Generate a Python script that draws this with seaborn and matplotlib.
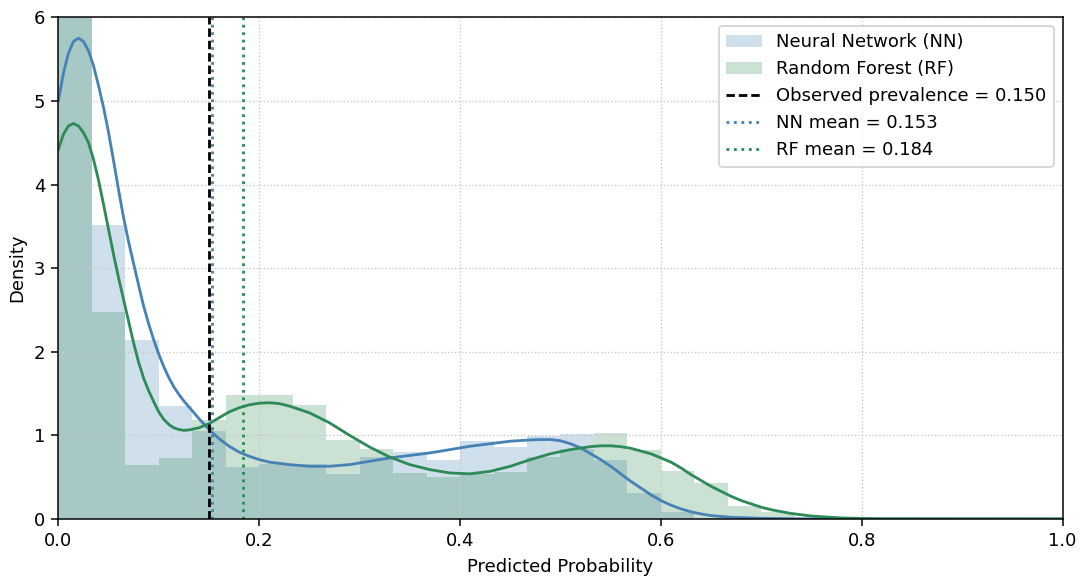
import numpy as np
import pandas as pd
import matplotlib
matplotlib.use("Agg")
import matplotlib.pyplot as plt
import seaborn as sns

# ---------------- data ----------------
bin_edges = [round(i / 30, 6) for i in range(31)]
bin_centers = [(bin_edges[i] + bin_edges[i + 1]) / 2 for i in range(30)]

nn_hist = [12.3, 3.52, 2.14, 1.35, 1.05, 0.62, 0.66, 0.66, 0.54, 0.74,
           0.80, 0.71, 0.93, 0.86, 0.99, 1.02, 0.71, 0.31, 0.08, 0.01,
           0, 0, 0, 0, 0, 0, 0, 0, 0, 0]
rf_hist = [12.0, 2.48, 0.65, 0.73, 1.18, 1.48, 1.48, 1.36, 0.94, 0.84,
           0.55, 0.50, 0.54, 0.56, 0.74, 0.84, 1.03, 0.82, 0.57, 0.43,
           0.15, 0.08, 0, 0, 0, 0, 0, 0, 0, 0]

nn_kde_x = [0.0, 0.005, 0.01, 0.015, 0.02, 0.025, 0.03, 0.035, 0.04, 0.045,
            0.05, 0.055, 0.06, 0.065, 0.07, 0.075, 0.08, 0.085, 0.09, 0.095,
            0.10, 0.105, 0.11, 0.115, 0.12, 0.125, 0.13, 0.14, 0.15, 0.16,
            0.17, 0.18, 0.19, 0.20, 0.21, 0.23, 0.25, 0.27, 0.29, 0.31,
            0.33, 0.35, 0.37, 0.39, 0.41, 0.43, 0.45, 0.47, 0.48, 0.49,
            0.50, 0.51, 0.52, 0.53, 0.54, 0.55, 0.56, 0.57, 0.58, 0.59,
            0.60, 0.61, 0.62, 0.63, 0.64, 0.65, 0.67, 0.70, 0.74, 0.80, 1.0]
nn_kde_y = [5.00, 5.33, 5.57, 5.71, 5.75, 5.71, 5.60, 5.42, 5.18, 4.92,
            4.62, 4.28, 3.93, 3.60, 3.31, 3.05, 2.79, 2.54, 2.33, 2.14,
            1.97, 1.82, 1.69, 1.58, 1.49, 1.41, 1.34, 1.20, 1.07, 0.96,
            0.87, 0.80, 0.75, 0.71, 0.68, 0.65, 0.63, 0.63, 0.65, 0.69,
            0.73, 0.76, 0.79, 0.83, 0.87, 0.90, 0.93, 0.945, 0.95, 0.95,
            0.935, 0.90, 0.85, 0.78, 0.71, 0.63, 0.54, 0.45, 0.37, 0.29,
            0.22, 0.165, 0.12, 0.085, 0.06, 0.04, 0.02, 0.008, 0.002, 0.0, 0.0]

rf_kde_x = [0.0, 0.005, 0.01, 0.015, 0.02, 0.025, 0.03, 0.035, 0.04, 0.045,
            0.05, 0.055, 0.06, 0.065, 0.07, 0.075, 0.08, 0.085, 0.09, 0.095,
            0.10, 0.105, 0.11, 0.115, 0.12, 0.125, 0.13, 0.14, 0.15, 0.16,
            0.17, 0.18, 0.19, 0.20, 0.21, 0.22, 0.23, 0.25, 0.27, 0.29,
            0.31, 0.33, 0.35, 0.37, 0.39, 0.41, 0.43, 0.45, 0.47, 0.49,
            0.51, 0.53, 0.54, 0.55, 0.56, 0.57, 0.59, 0.61, 0.62, 0.63,
            0.64, 0.65, 0.66, 0.67, 0.68, 0.69, 0.70, 0.71, 0.73, 0.75,
            0.78, 0.82, 1.0]
rf_kde_y = [4.42, 4.60, 4.70, 4.73, 4.70, 4.62, 4.50, 4.30, 4.05, 3.76,
            3.46, 3.16, 2.88, 2.62, 2.36, 2.10, 1.87, 1.68, 1.53, 1.40,
            1.28, 1.19, 1.13, 1.09, 1.07, 1.06, 1.065, 1.09, 1.14, 1.21,
            1.28, 1.33, 1.365, 1.385, 1.39, 1.38, 1.35, 1.27, 1.15, 1.00,
            0.86, 0.74, 0.65, 0.59, 0.55, 0.54, 0.57, 0.63, 0.71, 0.78,
            0.83, 0.865, 0.875, 0.875, 0.865, 0.845, 0.78, 0.68, 0.61, 0.53,
            0.46, 0.39, 0.33, 0.27, 0.22, 0.18, 0.14, 0.11, 0.065, 0.035,
            0.012, 0.002, 0.0]

observed_prev = 0.150
nn_mean = 0.153
rf_mean = 0.184

labels = ["Neural Network (NN)", "Random Forest (RF)"]

hist_nn_df = pd.DataFrame({"x": bin_centers, "w": nn_hist})
hist_rf_df = pd.DataFrame({"x": bin_centers, "w": rf_hist})
kde_nn_df = pd.DataFrame({"x": nn_kde_x, "y": nn_kde_y})
kde_rf_df = pd.DataFrame({"x": rf_kde_x, "y": rf_kde_y})

# ---------------- figure ----------------
plt.rcParams["font.family"] = ["DejaVu Sans"]
plt.rcParams["font.size"] = 9.6

NN_C = "steelblue"
RF_C = "seagreen"

fig, ax = plt.subplots(figsize=(1081 / 135, 576 / 135), dpi=135)
fig.subplots_adjust(left=0.054, right=0.983, top=0.970, bottom=0.099)

sns.histplot(data=hist_nn_df, x="x", weights="w", bins=bin_edges, stat="count",
             element="step", fill=True, alpha=0.25, linewidth=0,
             color=NN_C, label=labels[0], ax=ax)
sns.histplot(data=hist_rf_df, x="x", weights="w", bins=bin_edges, stat="count",
             element="step", fill=True, alpha=0.25, linewidth=0,
             color=RF_C, label=labels[1], ax=ax)

sns.lineplot(data=kde_nn_df, x="x", y="y", color=NN_C, linewidth=1.5, ax=ax)
sns.lineplot(data=kde_rf_df, x="x", y="y", color=RF_C, linewidth=1.5, ax=ax)

ax.axvline(observed_prev, color="black", linestyle="--", linewidth=1.5,
           dashes=(3.0, 1.4),
           label=f"Observed prevalence = {observed_prev:.3f}")
ax.axvline(nn_mean, color=NN_C, linestyle=":", linewidth=1.5,
           label=f"NN mean = {nn_mean:.3f}")
ax.axvline(rf_mean, color=RF_C, linestyle=":", linewidth=1.5,
           label=f"RF mean = {rf_mean:.3f}")

ax.set_xlim(0, 1)
ax.set_ylim(0, 6)
ax.set_xlabel("Predicted Probability")
ax.set_ylabel("Density")
ax.grid(True, linestyle=":", linewidth=0.7, color="#c4c4c4")

ax.legend(loc="upper right")

fig.savefig("out.png", dpi=135)
